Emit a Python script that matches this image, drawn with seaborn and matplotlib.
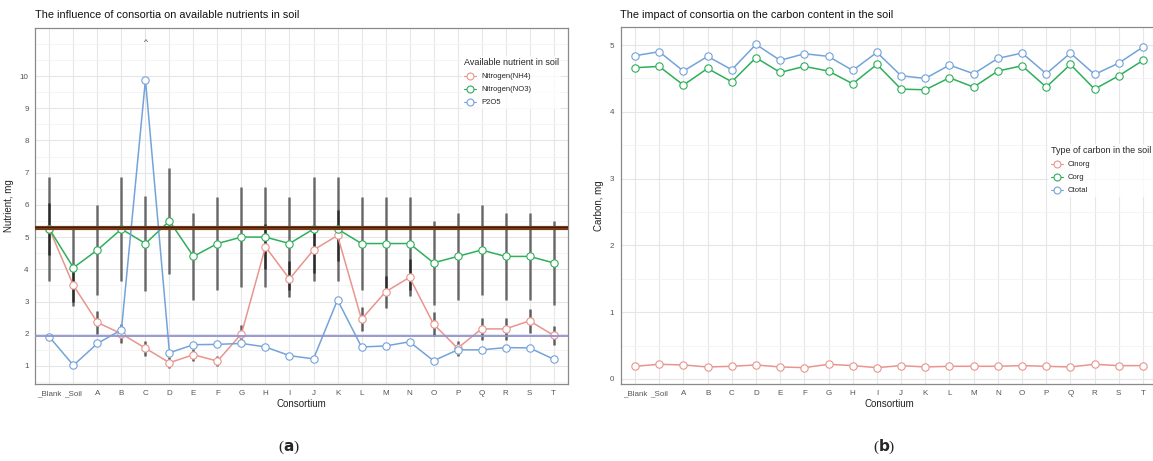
import seaborn as sns
import matplotlib.pyplot as plt
import pandas as pd
from matplotlib.lines import Line2D
from matplotlib.ticker import MultipleLocator

# categories on the x axis
consortia = ['_Blank', '_Soil', 'A', 'B', 'C', 'D', 'E', 'F', 'G', 'H', 'I',
             'J', 'K', 'L', 'M', 'N', 'O', 'P', 'Q', 'R', 'S', 'T']

# (a) available nutrients, mg
nh4 = [5.25, 3.5, 2.35, 2.0, 1.55, 1.1, 1.35, 1.15, 2.0, 4.7, 3.7,
       4.6, 5.05, 2.45, 3.3, 3.75, 2.3, 1.55, 2.15, 2.15, 2.4, 1.95]
no3 = [5.25, 4.05, 4.6, 5.25, 4.8, 5.5, 4.4, 4.8, 5.0, 5.0, 4.8,
       5.25, 5.25, 4.8, 4.8, 4.8, 4.2, 4.4, 4.6, 4.4, 4.4, 4.2]
p2o5 = [1.9, 1.02, 1.7, 2.12, 9.88, 1.41, 1.66, 1.67, 1.7, 1.59, 1.32,
        1.22, 3.05, 1.59, 1.62, 1.75, 1.16, 1.5, 1.5, 1.57, 1.56, 1.21]
nh4_err = [0.8, 0.52, 0.36, 0.3, 0.23, 0.17, 0.19, 0.16, 0.28, 0.7, 0.56,
           0.7, 0.78, 0.38, 0.5, 0.57, 0.37, 0.24, 0.33, 0.33, 0.37, 0.3]
no3_err = [1.6, 1.2, 1.4, 1.6, 1.46, 1.66, 1.35, 1.45, 1.55, 1.55, 1.45,
           1.6, 1.6, 1.45, 1.45, 1.45, 1.3, 1.35, 1.4, 1.35, 1.35, 1.3]
ref_no3 = 5.28
ref_p2o5 = 1.92

# (b) carbon content, mg
cinorg = [0.19, 0.22, 0.21, 0.18, 0.19, 0.21, 0.18, 0.17, 0.22, 0.2, 0.17,
          0.2, 0.18, 0.19, 0.19, 0.19, 0.2, 0.19, 0.18, 0.22, 0.2, 0.2]
corg = [4.66, 4.68, 4.4, 4.65, 4.45, 4.81, 4.59, 4.68, 4.61, 4.42, 4.71,
        4.34, 4.33, 4.51, 4.37, 4.61, 4.69, 4.37, 4.71, 4.34, 4.54, 4.77]
ctotal = [4.84, 4.9, 4.61, 4.83, 4.63, 5.01, 4.77, 4.87, 4.83, 4.62, 4.89,
          4.54, 4.5, 4.7, 4.57, 4.8, 4.88, 4.57, 4.88, 4.56, 4.73, 4.97]

red = '#e8958d'
green = '#2fae5c'
blue = '#74a3da'

nut = pd.DataFrame({'Consortium': consortia, 'Nitrogen(NH4)': nh4,
                    'Nitrogen(NO3)': no3, 'P2O5': p2o5})
carb = pd.DataFrame({'Consortium': consortia, 'Cinorg': cinorg,
                     'Corg': corg, 'Ctotal': ctotal})

sns.set_theme(style='white')
plt.rcParams['font.family'] = ['Liberation Sans', 'DejaVu Sans']

fig = plt.figure(figsize=(11.53, 4.61), dpi=100)
W, H = 1153, 461
ax1 = fig.add_axes([35 / W, 1 - 384 / H, 533 / W, 356 / H])
ax2 = fig.add_axes([620.5 / W, 1 - 384 / H, 537 / W, 357 / H])


def style_axes(ax, ylim, ymajor, yticks):
    ax.set_xlim(-0.6, len(consortia) - 0.4)
    ax.set_ylim(*ylim)
    ax.set_yticks(yticks)
    ax.yaxis.set_minor_locator(MultipleLocator(ymajor / 2))
    ax.grid(True, which='major', color='#e6e6e6', lw=0.8, zorder=0)
    ax.grid(True, which='minor', axis='y', color='#f3f3f3', lw=0.6, zorder=0)
    ax.set_axisbelow(True)
    for s in ax.spines.values():
        s.set_color('#8a8a8a')
        s.set_linewidth(0.9)
    ax.tick_params(axis='both', which='major', labelsize=5.8, colors='#555555',
                   length=2.5, width=0.6, pad=2)
    ax.tick_params(axis='both', which='minor', length=0)
    ax.set_xlabel('Consortium', fontsize=7, color='#222222', labelpad=1)


def draw_series(ax, df, names, colors, lw=1.1):
    for name, col in zip(names, colors):
        sns.lineplot(data=df, x='Consortium', y=name, ax=ax, color=col, lw=lw,
                     marker='o', markersize=5.3, markerfacecolor='white',
                     markeredgecolor=col, markeredgewidth=0.8, sort=False,
                     zorder=3)


# ---- (a) nutrients
ax1.errorbar(consortia, no3, yerr=no3_err, fmt='none', ecolor='black',
             elinewidth=1.8, alpha=0.55, capsize=0, zorder=2)
ax1.errorbar(consortia, nh4, yerr=nh4_err, fmt='none', ecolor='black',
             elinewidth=1.8, alpha=0.6, capsize=0, zorder=2)
draw_series(ax1, nut, ['Nitrogen(NH4)', 'Nitrogen(NO3)', 'P2O5'],
            [red, green, blue])
ax1.axhline(ref_no3, color='#7a3c17', lw=3, zorder=4)
ax1.axhline(ref_no3 + 0.04, color='#3a2010', lw=0.8, zorder=4)
ax1.axhline(ref_p2o5, color='#8f92d4', lw=1.3, zorder=4)
ax1.text('C', 11.05, '^', ha='center', va='center', fontsize=6, color='#333333')
style_axes(ax1, (0.44, 11.49), 1, range(1, 11))
ax1.set_ylabel('Nutrient, mg', fontsize=7, color='#222222', labelpad=4)

h1 = [Line2D([], [], color=c, lw=0.8, marker='o', markersize=5,
             markerfacecolor='white', markeredgecolor=c, markeredgewidth=0.8)
      for c in (red, green, blue)]
leg1 = ax1.legend(h1, ['Nitrogen(NH4)', 'Nitrogen(NO3)', 'P2O5'],
                  title='Available nutrient in soil', loc='upper left',
                  bbox_to_anchor=(423 / 533, 1 - 24 / 356), frameon=True,
                  fontsize=5.5, title_fontsize=6.5, handlelength=1.6,
                  handletextpad=0.6, labelspacing=0.75, borderpad=0.3)
leg1.get_frame().set_edgecolor('none')
leg1.get_frame().set_facecolor('white')
leg1._legend_box.align = 'left'

# ---- (b) carbon
draw_series(ax2, carb, ['Cinorg', 'Corg', 'Ctotal'], [red, green, blue], lw=1.1)
style_axes(ax2, (-0.075, 5.27), 1, range(0, 6))
ax2.set_ylabel('Carbon, mg', fontsize=7, color='#222222', labelpad=4)

h2 = [Line2D([], [], color=c, lw=0.8, marker='o', markersize=5,
             markerfacecolor='white', markeredgecolor=c, markeredgewidth=0.8)
      for c in (red, green, blue)]
leg2 = ax2.legend(h2, ['Cinorg', 'Corg', 'Ctotal'],
                  title='Type of carbon in the soil', loc='upper left',
                  bbox_to_anchor=(424 / 537, 1 - 113 / 357), frameon=True,
                  fontsize=5.5, title_fontsize=6.5, handlelength=1.6,
                  handletextpad=0.6, labelspacing=0.75, borderpad=0.3)
leg2.get_frame().set_edgecolor('none')
leg2.get_frame().set_facecolor('white')
leg2._legend_box.align = 'left'

# titles and panel labels
fig.text(35 / W, 1 - 15 / H, 'The influence of consortia on available nutrients in soil',
         fontsize=7.8, color='#111111', va='center', ha='left')
fig.text(620 / W, 1 - 15 / H, 'The impact of consortia on the carbon content in the soil',
         fontsize=7.8, color='#111111', va='center', ha='left')
for x, lab in ((289, 'a'), (884, 'b')):
    fig.text(x / W, 1 - 447 / H, '(' + r'$\bf{' + lab + '}$' + ')', fontsize=11,
             family='Liberation Serif', ha='center', va='center')

fig.savefig('out.png', dpi=100)
